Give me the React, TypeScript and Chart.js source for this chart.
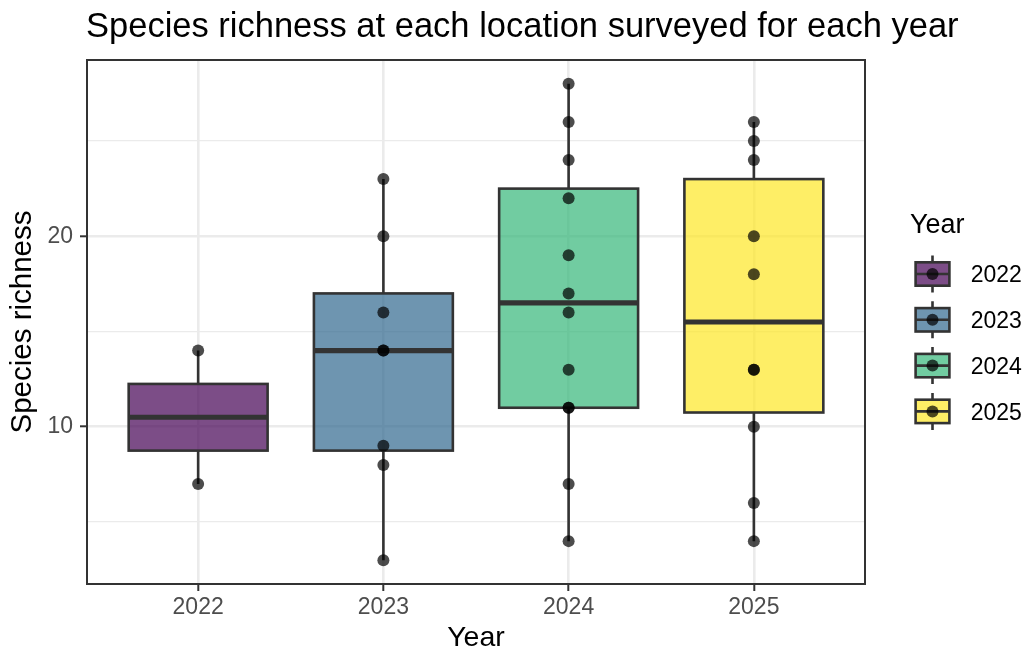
import React, { useEffect, useRef } from 'react';
import { Chart, registerables } from 'chart.js';

Chart.register(...registerables);

const years = [2022, 2023, 2024, 2025];
const richness2022 = [14, 7];
const richness2023 = [23, 20, 16, 14, 14, 9, 8, 3];
const richness2024 = [28, 26, 24, 22, 19, 17, 16, 13, 11, 11, 7, 4];
const richness2025 = [26, 25, 24, 20, 18, 13, 13, 10, 6, 4];
const seriesByYear = [richness2022, richness2023, richness2024, richness2025];
const boxColors = ['rgba(68,1,84,0.7)', 'rgba(49,104,142,0.7)', 'rgba(53,183,121,0.7)', 'rgba(253,231,37,0.7)'];
const yMajorTicks = [10, 20];
const yMinorTicks = [5, 15, 25];
const titleText = 'Species richness at each location surveyed for each year';
const xTitle = 'Year';
const yTitle = 'Species richness';
const legendTitle = 'Year';

const FONT = "'Liberation Sans', Arial, Helvetica, sans-serif";
const INK = '#333333';

function quantile(sorted: number[], p: number) {
  const pos = (sorted.length - 1) * p;
  const lo = Math.floor(pos);
  const hi = Math.ceil(pos);
  return sorted[lo] + (sorted[hi] - sorted[lo]) * (pos - lo);
}

export default function App() {
  const ref = useRef<HTMLCanvasElement>(null);

  useEffect(() => {
    const stats = seriesByYear.map((vals) => {
      const s = [...vals].sort((a, b) => a - b);
      return { min: s[0], max: s[s.length - 1], q1: quantile(s, 0.25), med: quantile(s, 0.5), q3: quantile(s, 0.75) };
    });
    const points = seriesByYear.flatMap((vals, i) => vals.map((v) => ({ x: years[i], y: v })));

    const boxPlugin = {
      id: 'boxParts',
      beforeDatasetsDraw(chart: any) {
        const { ctx, chartArea } = chart;
        const xs = chart.scales.x;
        const ys = chart.scales.y;
        ctx.save();
        ctx.beginPath();
        ctx.rect(chartArea.left, chartArea.top, chartArea.right - chartArea.left, chartArea.bottom - chartArea.top);
        ctx.clip();
        ctx.strokeStyle = INK;
        ctx.lineWidth = 2.6;
        ctx.lineCap = 'butt';
        stats.forEach((s, i) => {
          const px = xs.getPixelForValue(years[i]);
          ctx.beginPath();
          ctx.moveTo(px, ys.getPixelForValue(s.q3));
          ctx.lineTo(px, ys.getPixelForValue(s.max));
          ctx.moveTo(px, ys.getPixelForValue(s.q1));
          ctx.lineTo(px, ys.getPixelForValue(s.min));
          ctx.stroke();
        });
        ctx.restore();
      },
      afterDatasetDraw(chart: any, args: any) {
        if (args.index !== 0) return;
        const { ctx } = chart;
        const ys = chart.scales.y;
        const meta = chart.getDatasetMeta(0);
        ctx.save();
        ctx.strokeStyle = INK;
        ctx.lineCap = 'butt';
        meta.data.forEach((bar: any, i: number) => {
          const { x, y, base, width } = bar.getProps(['x', 'y', 'base', 'width'], true);
          ctx.lineWidth = 2.6;
          ctx.strokeRect(x - width / 2, Math.min(y, base), width, Math.abs(base - y));
          const py = ys.getPixelForValue(stats[i].med);
          ctx.lineWidth = 5.2;
          ctx.beginPath();
          ctx.moveTo(x - width / 2, py);
          ctx.lineTo(x + width / 2, py);
          ctx.stroke();
        });
        ctx.restore();
      },
      afterDraw(chart: any) {
        const { ctx, chartArea } = chart;
        ctx.save();
        ctx.strokeStyle = INK;
        ctx.lineWidth = 2;
        ctx.strokeRect(chartArea.left, chartArea.top, chartArea.right - chartArea.left, chartArea.bottom - chartArea.top);

        // title
        ctx.fillStyle = '#000';
        ctx.font = `34.5px ${FONT}`;
        ctx.textAlign = 'left';
        ctx.textBaseline = 'alphabetic';
        ctx.fillText(titleText, chartArea.left - 1, 37.3);

        // legend
        ctx.font = `27px ${FONT}`;
        ctx.fillText(legendTitle, 910, 232.7);
        const lx = 932.5;
        years.forEach((yr, i) => {
          const cy = 274 + i * 45.8;
          ctx.strokeStyle = INK;
          ctx.lineWidth = 2.6;
          ctx.beginPath();
          ctx.moveTo(lx, cy - 18.5);
          ctx.lineTo(lx, cy - 11.7);
          ctx.moveTo(lx, cy + 11.7);
          ctx.lineTo(lx, cy + 18.5);
          ctx.stroke();
          ctx.fillStyle = boxColors[i];
          ctx.fillRect(915.6, cy - 11.7, 33.8, 23.4);
          ctx.strokeRect(915.6, cy - 11.7, 33.8, 23.4);
          ctx.beginPath();
          ctx.moveTo(915.6, cy);
          ctx.lineTo(949.4, cy);
          ctx.stroke();
          ctx.fillStyle = 'rgba(0,0,0,0.7)';
          ctx.beginPath();
          ctx.arc(lx, cy, 6, 0, Math.PI * 2);
          ctx.fill();
          ctx.fillStyle = '#000';
          ctx.font = `23px ${FONT}`;
          ctx.fillText(String(yr), 970.7, cy + 8.3);
        });
        ctx.restore();
      },
    };

    const isMajor = (v: number) => yMajorTicks.includes(v);

    const chart = new Chart(ref.current as HTMLCanvasElement, {
      type: 'bar',
      data: {
        datasets: [
          {
            type: 'bar',
            label: 'box',
            data: years.map((yr, i) => ({ x: yr, y: [stats[i].q1, stats[i].q3] })) as any,
            backgroundColor: boxColors,
            borderWidth: 0,
            inflateAmount: 0,
            barPercentage: 0.75,
            categoryPercentage: 1,
            order: 2,
          } as any,
          {
            type: 'scatter',
            label: 'points',
            data: points,
            backgroundColor: 'rgba(0,0,0,0.7)',
            borderWidth: 0,
            pointRadius: 6,
            pointHoverRadius: 6,
            order: 1,
          } as any,
        ],
      },
      options: {
        responsive: false,
        animation: false,
        devicePixelRatio: 1,
        events: [],
        layout: { padding: { left: 0, right: 161, top: 60, bottom: 0 } },
        plugins: {
          legend: { display: false },
          tooltip: { enabled: false },
          title: { display: false },
        },
        scales: {
          x: {
            type: 'linear',
            min: 2021.4,
            max: 2025.6,
            offset: false,
            afterBuildTicks: (s: any) => {
              s.ticks = years.map((v) => ({ value: v }));
            },
            afterFit: (s: any) => {
              s.height = 70;
            },
            grid: { offset: false, color: '#ebebeb', lineWidth: 2.6, tickColor: INK, tickLength: 7, tickWidth: 2, drawTicks: true },
            border: { display: false },
            ticks: {
              color: '#4d4d4d',
              font: { size: 23, family: FONT },
              padding: 2.5,
              autoSkip: false,
              maxRotation: 0,
              callback: (v: any) => String(v),
            },
            title: {
              display: true,
              text: xTitle,
              color: '#000',
              font: { size: 28.5, family: FONT, lineHeight: 1 },
              padding: { top: 0, bottom: 1.6 },
            },
          },
          y: {
            type: 'linear',
            min: 1.75,
            max: 29.25,
            afterBuildTicks: (s: any) => {
              s.ticks = [...yMinorTicks, ...yMajorTicks].sort((a, b) => a - b).map((v) => ({ value: v }));
            },
            afterFit: (s: any) => {
              s.width = 87;
            },
            grid: {
              color: '#ebebeb',
              lineWidth: (c: any) => (isMajor(c.tick?.value) ? 2.6 : 1.3),
              tickColor: (c: any) => (isMajor(c.tick?.value) ? INK : 'rgba(0,0,0,0)'),
              tickLength: 7,
              tickWidth: 2,
              drawTicks: true,
            },
            border: { display: false },
            ticks: {
              color: '#4d4d4d',
              font: { size: 23, family: FONT },
              padding: 7,
              autoSkip: false,
              callback: (v: any) => (isMajor(v) ? String(v) : ''),
            },
            title: {
              display: true,
              text: yTitle,
              color: '#000',
              font: { size: 29.5, family: FONT, lineHeight: 1 },
              padding: { top: 8, bottom: 0 },
            },
          },
        },
      } as any,
      plugins: [boxPlugin],
    });

    return () => chart.destroy();
  }, []);

  return (
    <div style={{ position: 'absolute', left: 0, top: 0, width: 1026, height: 654, background: '#fff' }}>
      <canvas ref={ref} width={1026} height={654} style={{ width: 1026, height: 654, display: 'block' }} />
    </div>
  );
}
